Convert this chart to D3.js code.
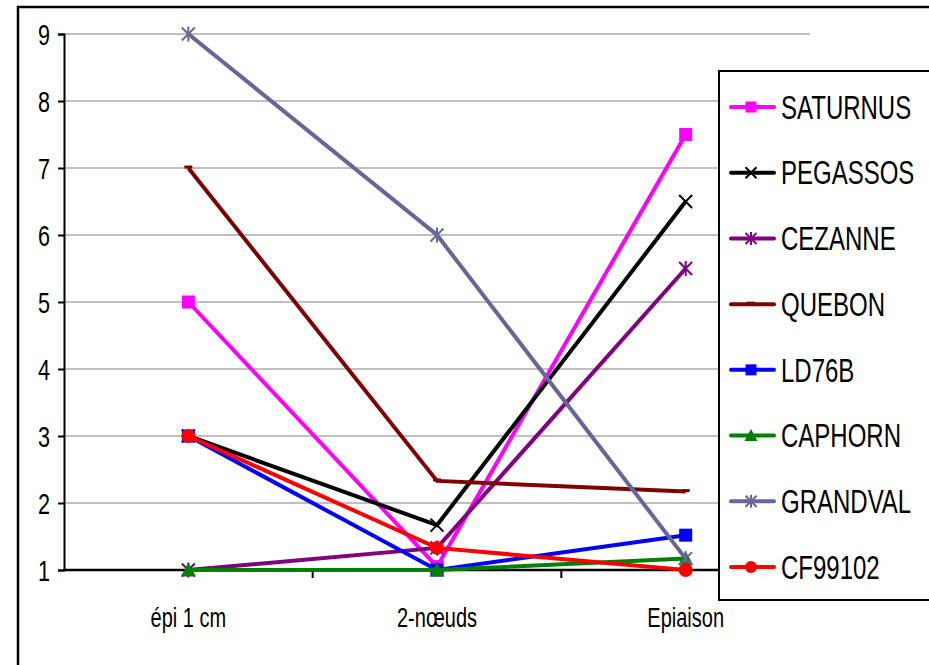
<!DOCTYPE html>
<html>
<head>
<meta charset="utf-8">
<script src="https://cdn.jsdelivr.net/npm/d3@7"></script>
<style>
  body { margin: 0; background: #fff; }
  svg { display: block; }
  text { font-family: "Liberation Sans", Arial, sans-serif; fill: #000; }
</style>
</head>
<body>
<svg></svg>
<script>
let categories = ['épi 1 cm', '2-nœuds', 'Epiaison'];
let yTicks = [1, 2, 3, 4, 5, 6, 7, 8, 9];

let seriesNames = ['SATURNUS', 'PEGASSOS', 'CEZANNE', 'QUEBON', 'LD76B', 'CAPHORN', 'GRANDVAL', 'CF99102'];
let saturnus = [5, 1.05, 7.5];
let pegassos = [3, 1.67, 6.5];
let cezanne  = [1, 1.33, 5.5];
let quebon   = [7, 2.33, 2.17];
let ld76b    = [3, 1, 1.52];
let caphorn  = [1, 1, 1.17];
let grandval = [9, 6, 1.17];
let cf99102  = [3, 1.33, 1];

let colors  = ['#FF00FF', '#000000', '#800080', '#800000', '#0000FF', '#008000', '#666699', '#FF0000'];
let markers = ['square', 'x', 'star', 'dash', 'square', 'triangle', 'star', 'circle'];

let seriesValues = [saturnus, pegassos, cezanne, quebon, ld76b, caphorn, grandval, cf99102];

let width = 929;
let height = 665;
let plotLeft = 64, plotRight = 810, plotTop = 34, plotBottom = 570;
let squeeze = 'scale(0.8,1.08)'; // the original font is a narrow, tall one

let svg = d3.select('svg').attr('width', width).attr('height', height);

// outer chart frame
svg.append('rect')
  .attr('x', 18).attr('y', 7)
  .attr('width', 940).attr('height', 700)
  .attr('fill', 'none').attr('stroke', '#000').attr('stroke-width', 2.5);

let xBand = d3.scaleBand().domain(categories).range([plotLeft, plotRight]);
let xScale = (c) => xBand(c) + xBand.bandwidth() / 2;
let yScale = d3.scaleLinear().domain([1, 9]).range([plotBottom, plotTop]);

// gridlines
svg.append('g')
  .selectAll('line')
  .data(yTicks.filter(t => t > 1))
  .enter()
  .append('line')
  .attr('x1', plotLeft).attr('x2', plotRight)
  .attr('y1', d => yScale(d)).attr('y2', d => yScale(d))
  .attr('stroke', '#C0C0C0').attr('stroke-width', 2);

// y axis
let yAxis = d3.axisLeft(yScale).tickValues(yTicks).tickSize(6).tickPadding(8).tickFormat(d3.format('d'));
let yg = svg.append('g').attr('transform', 'translate(' + plotLeft + ',0)').call(yAxis);
yg.select('.domain').attr('stroke', '#000').attr('stroke-width', 2);
yg.selectAll('.tick line').attr('stroke', '#000').attr('stroke-width', 2);
yg.selectAll('.tick text')
  .attr('x', 0)
  .attr('transform', 'translate(-14,0) ' + squeeze)
  .style('font-size', '27px').attr('dy', '0.36em');

// x axis
let xg = svg.append('g').attr('transform', 'translate(0,' + plotBottom + ')');
xg.append('line')
  .attr('x1', plotLeft).attr('x2', plotRight)
  .attr('stroke', '#000').attr('stroke-width', 2.5);
xg.selectAll('.xtick')
  .data(categories.slice(1))
  .enter()
  .append('line')
  .attr('x1', d => xBand(d)).attr('x2', d => xBand(d))
  .attr('y1', 0).attr('y2', 8)
  .attr('stroke', '#000').attr('stroke-width', 2);
xg.selectAll('text')
  .data(categories)
  .enter()
  .append('text')
  .attr('transform', d => 'translate(' + xScale(d) + ',57) ' + squeeze)
  .attr('text-anchor', 'middle')
  .style('font-size', '25px')
  .text(d => d);

let drawMarker = (g, type, x, y, color, s) => {
  if (type === 'square') {
    g.append('rect').attr('x', x - s).attr('y', y - s).attr('width', 2 * s).attr('height', 2 * s).attr('fill', color);
  } else if (type === 'circle') {
    g.append('circle').attr('cx', x).attr('cy', y).attr('r', s + 0.5).attr('fill', color);
  } else if (type === 'triangle') {
    g.append('path').attr('d', `M${x},${y - s - 1}L${x + s + 1},${y + s}L${x - s - 1},${y + s}Z`).attr('fill', color);
  } else if (type === 'x') {
    g.append('path').attr('d', `M${x - s},${y - s}L${x + s},${y + s}M${x - s},${y + s}L${x + s},${y - s}`)
      .attr('stroke', color).attr('stroke-width', 2);
  } else if (type === 'star') {
    g.append('path').attr('d', `M${x - s},${y - s}L${x + s},${y + s}M${x - s},${y + s}L${x + s},${y - s}M${x},${y - s - 1}L${x},${y + s + 1}`)
      .attr('stroke', color).attr('stroke-width', 2);
  } else if (type === 'dash') {
    g.append('line').attr('x1', x - 4).attr('x2', x + 4).attr('y1', y - 1).attr('y2', y - 1)
      .attr('stroke', color).attr('stroke-width', 3);
  }
};

let line = d3.line().x((d, i) => xScale(categories[i])).y(d => yScale(d));

seriesValues.forEach((vals, k) => {
  let g = svg.append('g');
  g.append('path')
    .datum(vals)
    .attr('d', line)
    .attr('fill', 'none')
    .attr('stroke', colors[k])
    .attr('stroke-width', 4);
  vals.forEach((v, i) => drawMarker(g, markers[k], xScale(categories[i]), yScale(v), colors[k], 6.5));
});

// legend
let legend = svg.append('g');
legend.append('rect')
  .attr('x', 719).attr('y', 71)
  .attr('width', 260).attr('height', 529)
  .attr('fill', '#fff').attr('stroke', '#000').attr('stroke-width', 2);

let legendY = d3.scalePoint().domain(seriesNames).range([107, 567]);
seriesNames.forEach((name, k) => {
  let y = legendY(name);
  legend.append('line')
    .attr('x1', 731).attr('x2', 774).attr('y1', y).attr('y2', y)
    .attr('stroke', colors[k]).attr('stroke-width', 4).attr('stroke-linecap', 'round');
  drawMarker(legend, markers[k], 751, y, colors[k], 5.5);
  legend.append('text')
    .attr('transform', 'translate(781,' + y + ') ' + squeeze)
    .attr('dy', '0.36em')
    .style('font-size', '30px')
    .text(name);
});
</script>
</body>
</html>
